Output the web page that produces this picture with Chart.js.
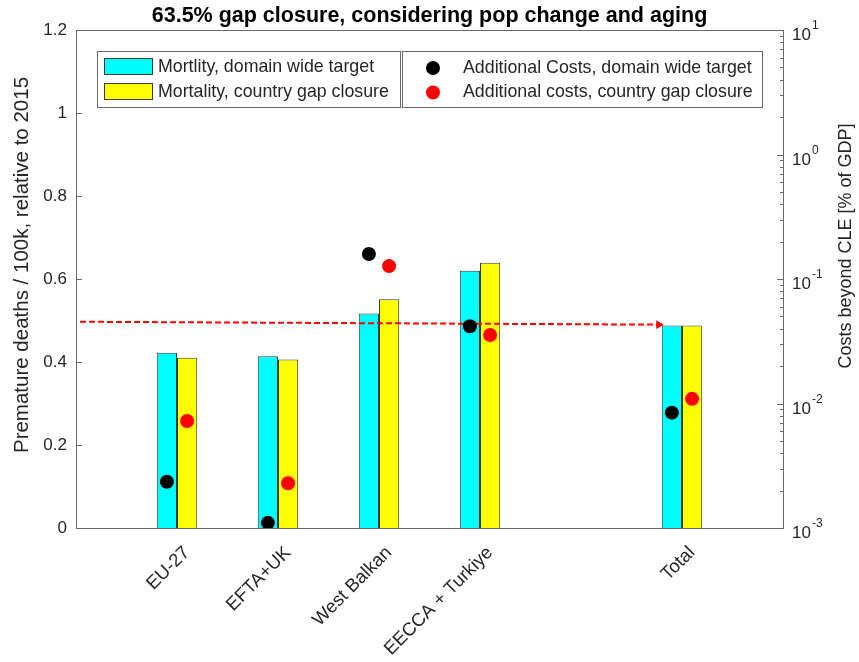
<!DOCTYPE html>
<html>
<head>
<meta charset="utf-8">
<script src="https://cdn.jsdelivr.net/npm/chart.js@4.4.1/dist/chart.umd.min.js"></script>
<style>
  html, body { margin: 0; padding: 0; background: #fff; }
  #wrap { width: 859px; height: 662px; }
</style>
</head>
<body>
<div id="wrap"><canvas id="chart" width="859" height="662"></canvas></div>
<script>
// regions and where they sit on the x axis (slot 5 left empty before Total)
const regions = ['EU-27', 'EFTA+UK', 'West Balkan', 'EECCA + Turkiye', 'Total'];
const regionPos = [1, 2, 3, 4, 6];

// left axis: premature deaths / 100k, relative to 2015
const mortDomain = [0.422, 0.414, 0.517, 0.620, 0.488];
const mortCountry = [0.410, 0.406, 0.551, 0.639, 0.488];

// right axis (log): costs beyond CLE [% of GDP]
const costDomain = [0.00235, 0.00110, 0.159, 0.0417, 0.00844];
const costCountry = [0.00723, 0.00229, 0.127, 0.0355, 0.0109];

// dashed red arrow, in left-axis units
const arrowX = [0.04, 5.77];
const arrowY = [0.497, 0.490];

// tick labels
const leftTicks = [0, 0.2, 0.4, 0.6, 0.8, 1, 1.2];
const rightExp = [-3, -2, -1, 0, 1];

const FONT = '"Liberation Sans", Arial, Helvetica, sans-serif';
const AXIS = '#6b6b6b';
const TXT = '#262626';

// half a bar width, so the dots sit over the middle of each bar
const dotShift = 0.1;

const decorPlugin = {
    id: 'decor',
    afterDraw(chart) {
        const ctx = chart.ctx;
        const a = chart.chartArea;
        const y = chart.scales.y;
        const y2 = chart.scales.y2;
        const ds = chart.data.datasets;
        ctx.save();

        // axes box
        ctx.strokeStyle = AXIS;
        ctx.lineWidth = 1;
        ctx.strokeRect(a.left + 0.5, a.top + 0.5, a.right - a.left, a.bottom - a.top);

        // inward tick marks
        ctx.beginPath();
        leftTicks.forEach(v => {
            const p = Math.round(y.getPixelForValue(v)) + 0.5;
            ctx.moveTo(a.left, p);
            ctx.lineTo(a.left + 6, p);
        });
        for (let e = rightExp[0]; e < rightExp[rightExp.length - 1]; e++) {
            for (let k = 1; k < 10; k++) {
                const p = Math.round(y2.getPixelForValue(k * Math.pow(10, e))) + 0.5;
                ctx.moveTo(a.right, p);
                ctx.lineTo(a.right - (k === 1 ? 6 : 3), p);
            }
        }
        const pTop = Math.round(y2.getPixelForValue(Math.pow(10, rightExp[rightExp.length - 1]))) + 0.5;
        ctx.moveTo(a.right, pTop);
        ctx.lineTo(a.right - 6, pTop);
        ctx.stroke();

        // right tick labels 10^n
        ctx.fillStyle = TXT;
        ctx.textBaseline = 'alphabetic';
        ctx.textAlign = 'left';
        rightExp.forEach(e => {
            const p = y2.getPixelForValue(Math.pow(10, e));
            ctx.font = '17px ' + FONT;
            ctx.fillText('10', a.right + 9, p + 10);
            const w = ctx.measureText('10').width;
            ctx.font = '12px ' + FONT;
            ctx.fillText(String(e), a.right + 10 + w, p - 1);
        });

        // axis titles
        ctx.textAlign = 'center';
        ctx.textBaseline = 'middle';
        ctx.save();
        ctx.font = '20.5px ' + FONT;
        ctx.translate(22, 265);
        ctx.rotate(-Math.PI / 2);
        ctx.fillText('Premature deaths / 100k, relative to 2015', 0, 0);
        ctx.restore();
        ctx.save();
        ctx.font = '18px ' + FONT;
        ctx.translate(846, 246);
        ctx.rotate(-Math.PI / 2);
        ctx.fillText('Costs beyond CLE [% of GDP]', 0, 0);
        ctx.restore();

        // legend boxes
        ctx.font = '17.8px ' + FONT;
        ctx.textAlign = 'left';
        ctx.fillStyle = '#fff';
        ctx.fillRect(97.5, 51.5, 303, 56);
        ctx.fillRect(402.5, 51.5, 360, 56);
        ctx.strokeStyle = AXIS;
        ctx.strokeRect(97.5, 51.5, 303, 56);
        ctx.strokeRect(402.5, 51.5, 360, 56);

        [0, 1].forEach(i => {
            const top = 58 + i * 25;
            ctx.fillStyle = ds[i].backgroundColor;
            ctx.fillRect(104, top, 49, 17);
            ctx.strokeStyle = ds[i].borderColor;
            ctx.strokeRect(104.5, top + 0.5, 48, 16);
            ctx.fillStyle = TXT;
            ctx.fillText(ds[i].label, 158, top + 9);
        });
        [2, 3].forEach((i, j) => {
            const cy = 68 + j * 24.5;
            ctx.fillStyle = ds[i].backgroundColor;
            ctx.beginPath();
            ctx.arc(433, cy, 7, 0, Math.PI * 2);
            ctx.fill();
            ctx.fillStyle = TXT;
            ctx.fillText(ds[i].label, 463, cy);
        });

        ctx.restore();
    }
};

const barData = (vals) => vals.map((v, i) => ({ x: regionPos[i], y: v }));

new Chart(document.getElementById('chart'), {
    type: 'bar',
    data: {
        datasets: [
            {
                label: 'Mortlity, domain wide target',
                data: barData(mortDomain),
                backgroundColor: '#00ffff',
                borderColor: '#3a3a3a',
                borderWidth: 1,
                categoryPercentage: 0.4,
                barPercentage: 1.0,
                yAxisID: 'y',
                order: 3
            },
            {
                label: 'Mortality, country gap closure',
                data: barData(mortCountry),
                backgroundColor: '#ffff00',
                borderColor: '#3a3a3a',
                borderWidth: 1,
                categoryPercentage: 0.4,
                barPercentage: 1.0,
                yAxisID: 'y',
                order: 3
            },
            {
                type: 'scatter',
                label: 'Additional Costs, domain wide target',
                data: costDomain.map((v, i) => ({ x: regionPos[i] - dotShift, y: v })),
                backgroundColor: '#000000',
                borderWidth: 0,
                pointRadius: 7,
                yAxisID: 'y2',
                order: 1
            },
            {
                type: 'scatter',
                label: 'Additional costs, country gap closure',
                data: costCountry.map((v, i) => ({ x: regionPos[i] + dotShift, y: v })),
                backgroundColor: '#ff0000',
                borderWidth: 0,
                pointRadius: 7,
                yAxisID: 'y2',
                order: 1
            },
            {
                type: 'line',
                label: 'arrow',
                data: arrowX.map((x, i) => ({ x: x, y: arrowY[i] })),
                borderColor: '#ff0000',
                borderWidth: 2,
                borderDash: [6, 3],
                pointRadius: [0, 5],
                pointStyle: 'triangle',
                rotation: 90,
                pointBackgroundColor: '#ff0000',
                pointBorderWidth: 0,
                yAxisID: 'y',
                order: 2
            }
        ]
    },
    options: {
        responsive: false,
        animation: false,
        layout: { padding: 0 },
        plugins: {
            legend: { display: false },
            tooltip: { enabled: false },
            title: {
                display: true,
                text: '63.5% gap closure, considering pop change and aging',
                color: '#000',
                font: { family: FONT, size: 21.5, weight: 'bold', lineHeight: 1.2 },
                padding: { top: 3, bottom: 1.2 }
            }
        },
        scales: {
            x: {
                type: 'linear',
                min: 0,
                max: 7,
                offset: false,
                grid: { display: false, offset: false },
                border: { display: false },
                afterFit: (s) => { s.height = 134; },
                ticks: {
                    stepSize: 1,
                    autoSkip: false,
                    minRotation: 45,
                    maxRotation: 45,
                    padding: 6,
                    labelOffset: 10,
                    color: TXT,
                    font: { family: FONT, size: 18.5 },
                    callback: (v) => {
                        const i = regionPos.indexOf(v);
                        return i >= 0 ? regions[i] : '';
                    }
                }
            },
            y: {
                position: 'left',
                min: 0,
                max: 1.2,
                grid: { display: false, drawTicks: false },
                border: { display: false },
                afterFit: (s) => { s.width = 76; },
                afterBuildTicks: (s) => { s.ticks = leftTicks.map(v => ({ value: v })); },
                ticks: {
                    padding: 9,
                    color: TXT,
                    font: { family: FONT, size: 17 },
                    callback: (v) => String(Math.round(v * 10) / 10)
                }
            },
            y2: {
                type: 'logarithmic',
                position: 'right',
                min: Math.pow(10, rightExp[0]),
                max: Math.pow(10, rightExp[rightExp.length - 1]),
                grid: { display: false, drawTicks: false },
                border: { display: false },
                afterFit: (s) => { s.width = 76; },
                ticks: { display: false, autoSkip: false }
            }
        }
    },
    plugins: [decorPlugin]
});
</script>
</body>
</html>
